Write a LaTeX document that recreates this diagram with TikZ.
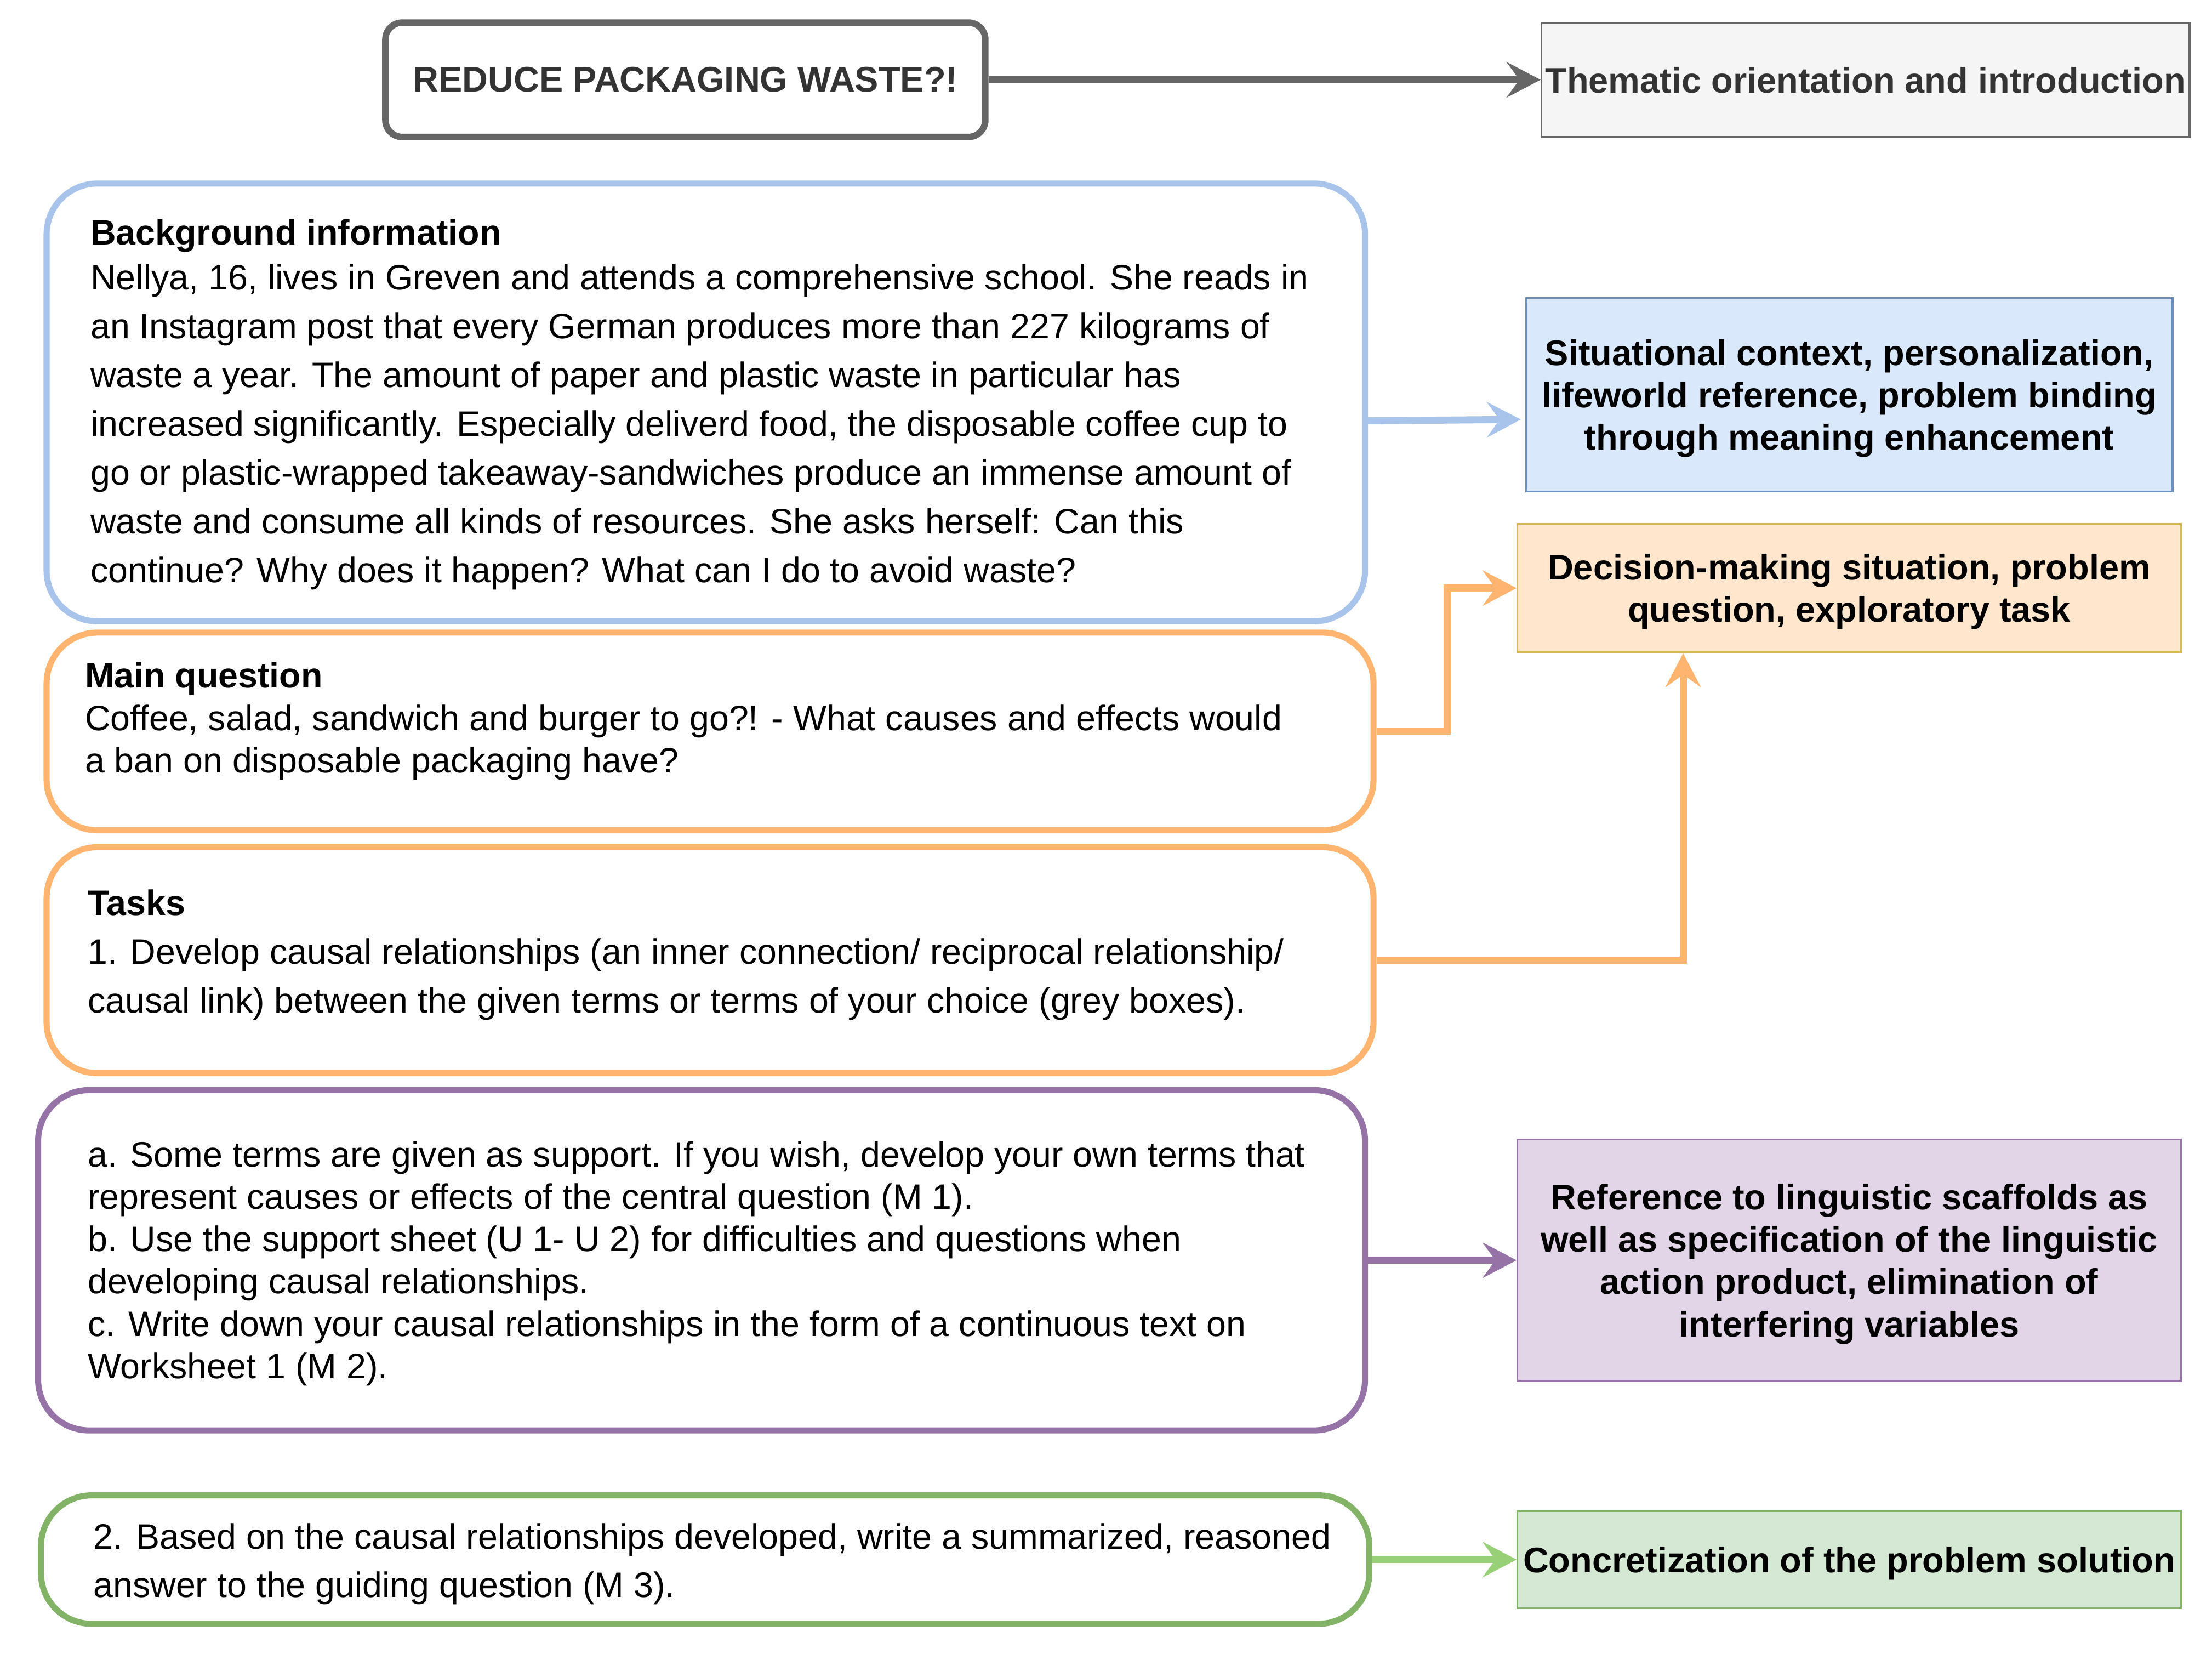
\documentclass[tikz,border=0pt]{standalone}
\usepackage{fontspec}
\setmainfont{Liberation Sans}
\usetikzlibrary{arrows.meta,calc}
\definecolor{topgray}{HTML}{666666}
\definecolor{graybg}{HTML}{F5F5F5}
\definecolor{graybd}{HTML}{666666}
\definecolor{graytx}{HTML}{333333}
\definecolor{bgblue}{HTML}{A9C4EB}
\definecolor{bluefill}{HTML}{DAE8FC}
\definecolor{bluebd}{HTML}{6C8EBF}
\definecolor{orangeln}{HTML}{FFB570}
\definecolor{orangefill}{HTML}{FFE6CC}
\definecolor{orangebd}{HTML}{D6B656}
\definecolor{purpleln}{HTML}{9673A6}
\definecolor{purplefill}{HTML}{E1D5E7}
\definecolor{greenln}{HTML}{82B366}
\definecolor{greenarr}{HTML}{97D077}
\definecolor{greenfill}{HTML}{D5E8D4}
\begin{document}
\begin{tikzpicture}[x=1pt,y=-1pt,
  lbox/.style={draw, line width=4.3pt, rounded corners=36pt, inner sep=0pt},
  rbox/.style={draw, line width=1.3pt, inner sep=0pt, text depth=0pt, font=\bfseries\fontsize{25.2}{30}\selectfont, align=center},
  bodytxt/.style={anchor=north west, inner sep=0pt, align=left, font=\fontsize{25.05}{#1}\selectfont},
  conn/.style={line width=5pt, -{Stealth[length=24pt,width=25pt,inset=9pt]}},
]
\useasboundingbox (0,0) rectangle (1567,1171);

% top row
\node[draw=topgray, line width=4.6pt, rounded corners=12pt, minimum width=425pt, minimum height=81pt, font=\bfseries\fontsize{25.2}{30}\selectfont, text=graytx] (top) at (485.5,56.5) {REDUCE PACKAGING WASTE?!};
\node[rbox, draw=graybd, fill=graybg, text=graytx, minimum width=459pt, minimum height=81pt] (them) at (1321.5,56.5) {Thematic orientation and introduction};
\draw[conn, topgray] (top.east) -- (them.west);

% left boxes
\node[lbox, draw=bgblue, minimum width=934pt, minimum height=310pt] (bg) at (500,285) {};
\node[lbox, draw=orangeln, minimum width=940pt, minimum height=140pt] (mq) at (503,518) {};
\node[lbox, draw=orangeln, minimum width=940pt, minimum height=160pt] (tasks) at (503,680) {};
\node[lbox, draw=purpleln, minimum width=940pt, minimum height=241pt] (sub) at (497,892.5) {};
\node[lbox, draw=greenln, minimum width=941pt, minimum height=91pt] (ans) at (499.5,1104.5) {};

% left texts
\node[bodytxt=34.5] (bgtxt) at (64,149) {\strut\textbf{Background information}\\[-2.5pt]
Nellya, 16, lives in Greven and attends a comprehensive school. She reads in\\
an Instagram post that every German produces more than 227 kilograms of\\
waste a year. The amount of paper and plastic waste in particular has\\
increased significantly. Especially deliverd food, the disposable coffee cup to\\
go or plastic-wrapped takeaway-sandwiches produce an immense amount of\\
waste and consume all kinds of resources. She asks herself: Can this\\
continue? Why does it happen? What can I do to avoid waste?};
\node[bodytxt=30] (mqtxt) at (60,466) {\strut\textbf{Main question}\\
Coffee, salad, sandwich and burger to go?! - What causes and effects would\\
a ban on disposable packaging have?};
\node[bodytxt=34.5] (taskstxt) at (62,624) {\strut\textbf{Tasks}\\
1. Develop causal relationships (an inner connection/ reciprocal relationship/\\
causal link) between the given terms or terms of your choice (grey boxes).};
\node[bodytxt=30] (subtxt) at (62,805) {\strut a. Some terms are given as support. If you wish, develop your own terms that\\
represent causes or effects of the central question (M 1).\\
b. Use the support sheet (U 1- U 2) for difficulties and questions when\\
developing causal relationships.\\
c. Write down your causal relationships in the form of a continuous text on\\
Worksheet 1 (M 2).};
\node[bodytxt=34] (anstxt) at (66,1073) {\strut 2. Based on the causal relationships developed, write a summarized, reasoned\\
answer to the guiding question (M 3).};

% right boxes
\node[rbox, draw=bluebd, fill=bluefill, minimum width=458pt, minimum height=137pt] (sit) at (1310,279.5) {Situational context, personalization,\\ lifeworld reference, problem binding\\ through meaning enhancement};
\node[rbox, draw=orangebd, fill=orangefill, minimum width=470pt, minimum height=91pt] (dec) at (1310,416.5) {Decision-making situation, problem\\ question, exploratory task};
\node[rbox, draw=purpleln, fill=purplefill, minimum width=470pt, minimum height=171pt] (ref) at (1310,892.5) {Reference to linguistic scaffolds as\\ well as specification of the linguistic\\ action product, elimination of\\ interfering variables};
\node[rbox, draw=greenln, fill=greenfill, minimum width=470pt, minimum height=69pt] (conc) at (1310,1104.5) {Concretization of the problem solution};

% connectors
\draw[conn, bgblue, shorten >=3pt] (bg.east |- 0,298) -- (sit.west |- 0,297);
\draw[conn, orangeln] (mq.east) -- ++(50,0) |- (dec.west);
\draw[conn, orangeln] (tasks.east) -| ([xshift=118pt]dec.south west);
\draw[conn, purpleln] (sub.east) -- (ref.west);
\draw[conn, greenarr] (ans.east) -- (conc.west);
\end{tikzpicture}
\end{document}
